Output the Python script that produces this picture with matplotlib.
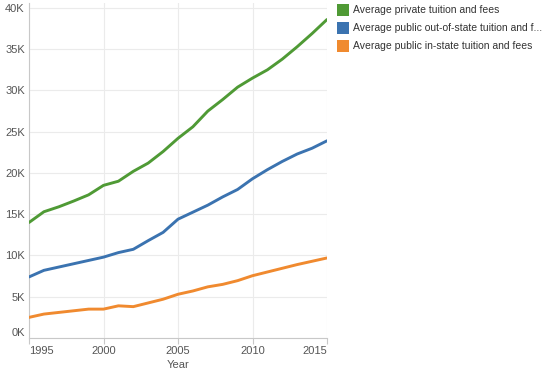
import matplotlib
matplotlib.use("Agg")
import matplotlib.pyplot as plt
from matplotlib.patches import Rectangle
from matplotlib.ticker import FuncFormatter

plt.rcParams['font.family'] = ['Liberation Sans', 'DejaVu Sans']

years = list(range(1995, 2016))
private = [14.0, 15.3, 15.9, 16.6, 17.35, 18.5, 19.0, 20.2, 21.2, 22.6, 24.2,
           25.6, 27.5, 28.9, 30.4, 31.5, 32.5, 33.8, 35.3, 36.9, 38.6]
public_out = [7.4, 8.2, 8.6, 9.0, 9.4, 9.8, 10.35, 10.75, 11.8, 12.8, 14.4,
              15.25, 16.1, 17.1, 18.0, 19.3, 20.4, 21.4, 22.3, 23.0, 23.9]
public_in = [2.5, 2.9, 3.1, 3.3, 3.5, 3.5, 3.9, 3.8, 4.25, 4.7, 5.3,
             5.7, 6.2, 6.5, 6.95, 7.55, 8.0, 8.45, 8.9, 9.3, 9.7]
series_names = ["Average private tuition and fees",
                "Average public out-of-state tuition and f...",
                "Average public in-state tuition and fees"]
colors = ["#4f9a35", "#3b73b0", "#f08a2f"]
x_ticks = [1995, 2000, 2005, 2010, 2015]
y_ticks = [0, 5, 10, 15, 20, 25, 30, 35, 40]

fig = plt.figure(figsize=(5.55, 3.69), dpi=100)
W, H = 555, 369
left, right, top, bottom = 29, 327, 3, 338
ax = fig.add_axes([left / W, 1 - bottom / H, (right - left) / W, (bottom - top) / H])

for vals, c in zip([private, public_out, public_in], colors):
    ax.plot(years, [v * 1000 for v in vals], color=c, lw=2.1,
            solid_capstyle='round', solid_joinstyle='round', zorder=3)

ax.set_xlim(1995, 2015)
ax.set_ylim(0, 40600)
ax.set_xticks(x_ticks)
ax.set_yticks([v * 1000 for v in y_ticks])
ax.yaxis.set_major_formatter(FuncFormatter(lambda v, p: f"{int(v/1000)}K"))
ax.grid(True, color="#ebebeb", lw=0.8, zorder=0)
for s in ["top", "right"]:
    ax.spines[s].set_visible(False)
for s in ["left", "bottom"]:
    ax.spines[s].set_color("#c8c8c8")
    ax.spines[s].set_linewidth(0.8)
ax.tick_params(axis="both", length=0, labelsize=8, labelcolor="#555555", pad=3)
ax.tick_params(axis="x", length=4, color="#c8c8c8", pad=2)
ax.set_xlabel("Year", fontsize=8, color="#555555", labelpad=3)

xl = ax.get_xticklabels()
xl[0].set_ha("left")
xl[-1].set_ha("right")
yl = ax.get_yticklabels()
yl[0].set_va("bottom")

# legend drawn at fixed pixel positions
for i, (name, c) in enumerate(zip(series_names, colors)):
    y0 = 4 + i * 18
    fig.patches.append(Rectangle((337 / W, 1 - (y0 + 12) / H), 12 / W, 12 / H,
                                 transform=fig.transFigure, facecolor=c,
                                 edgecolor="none"))
    fig.text(353 / W, 1 - (y0 + 6) / H, name, fontsize=7.5, color="#333333",
             va="center", ha="left")

fig.savefig("out.png", dpi=100)
